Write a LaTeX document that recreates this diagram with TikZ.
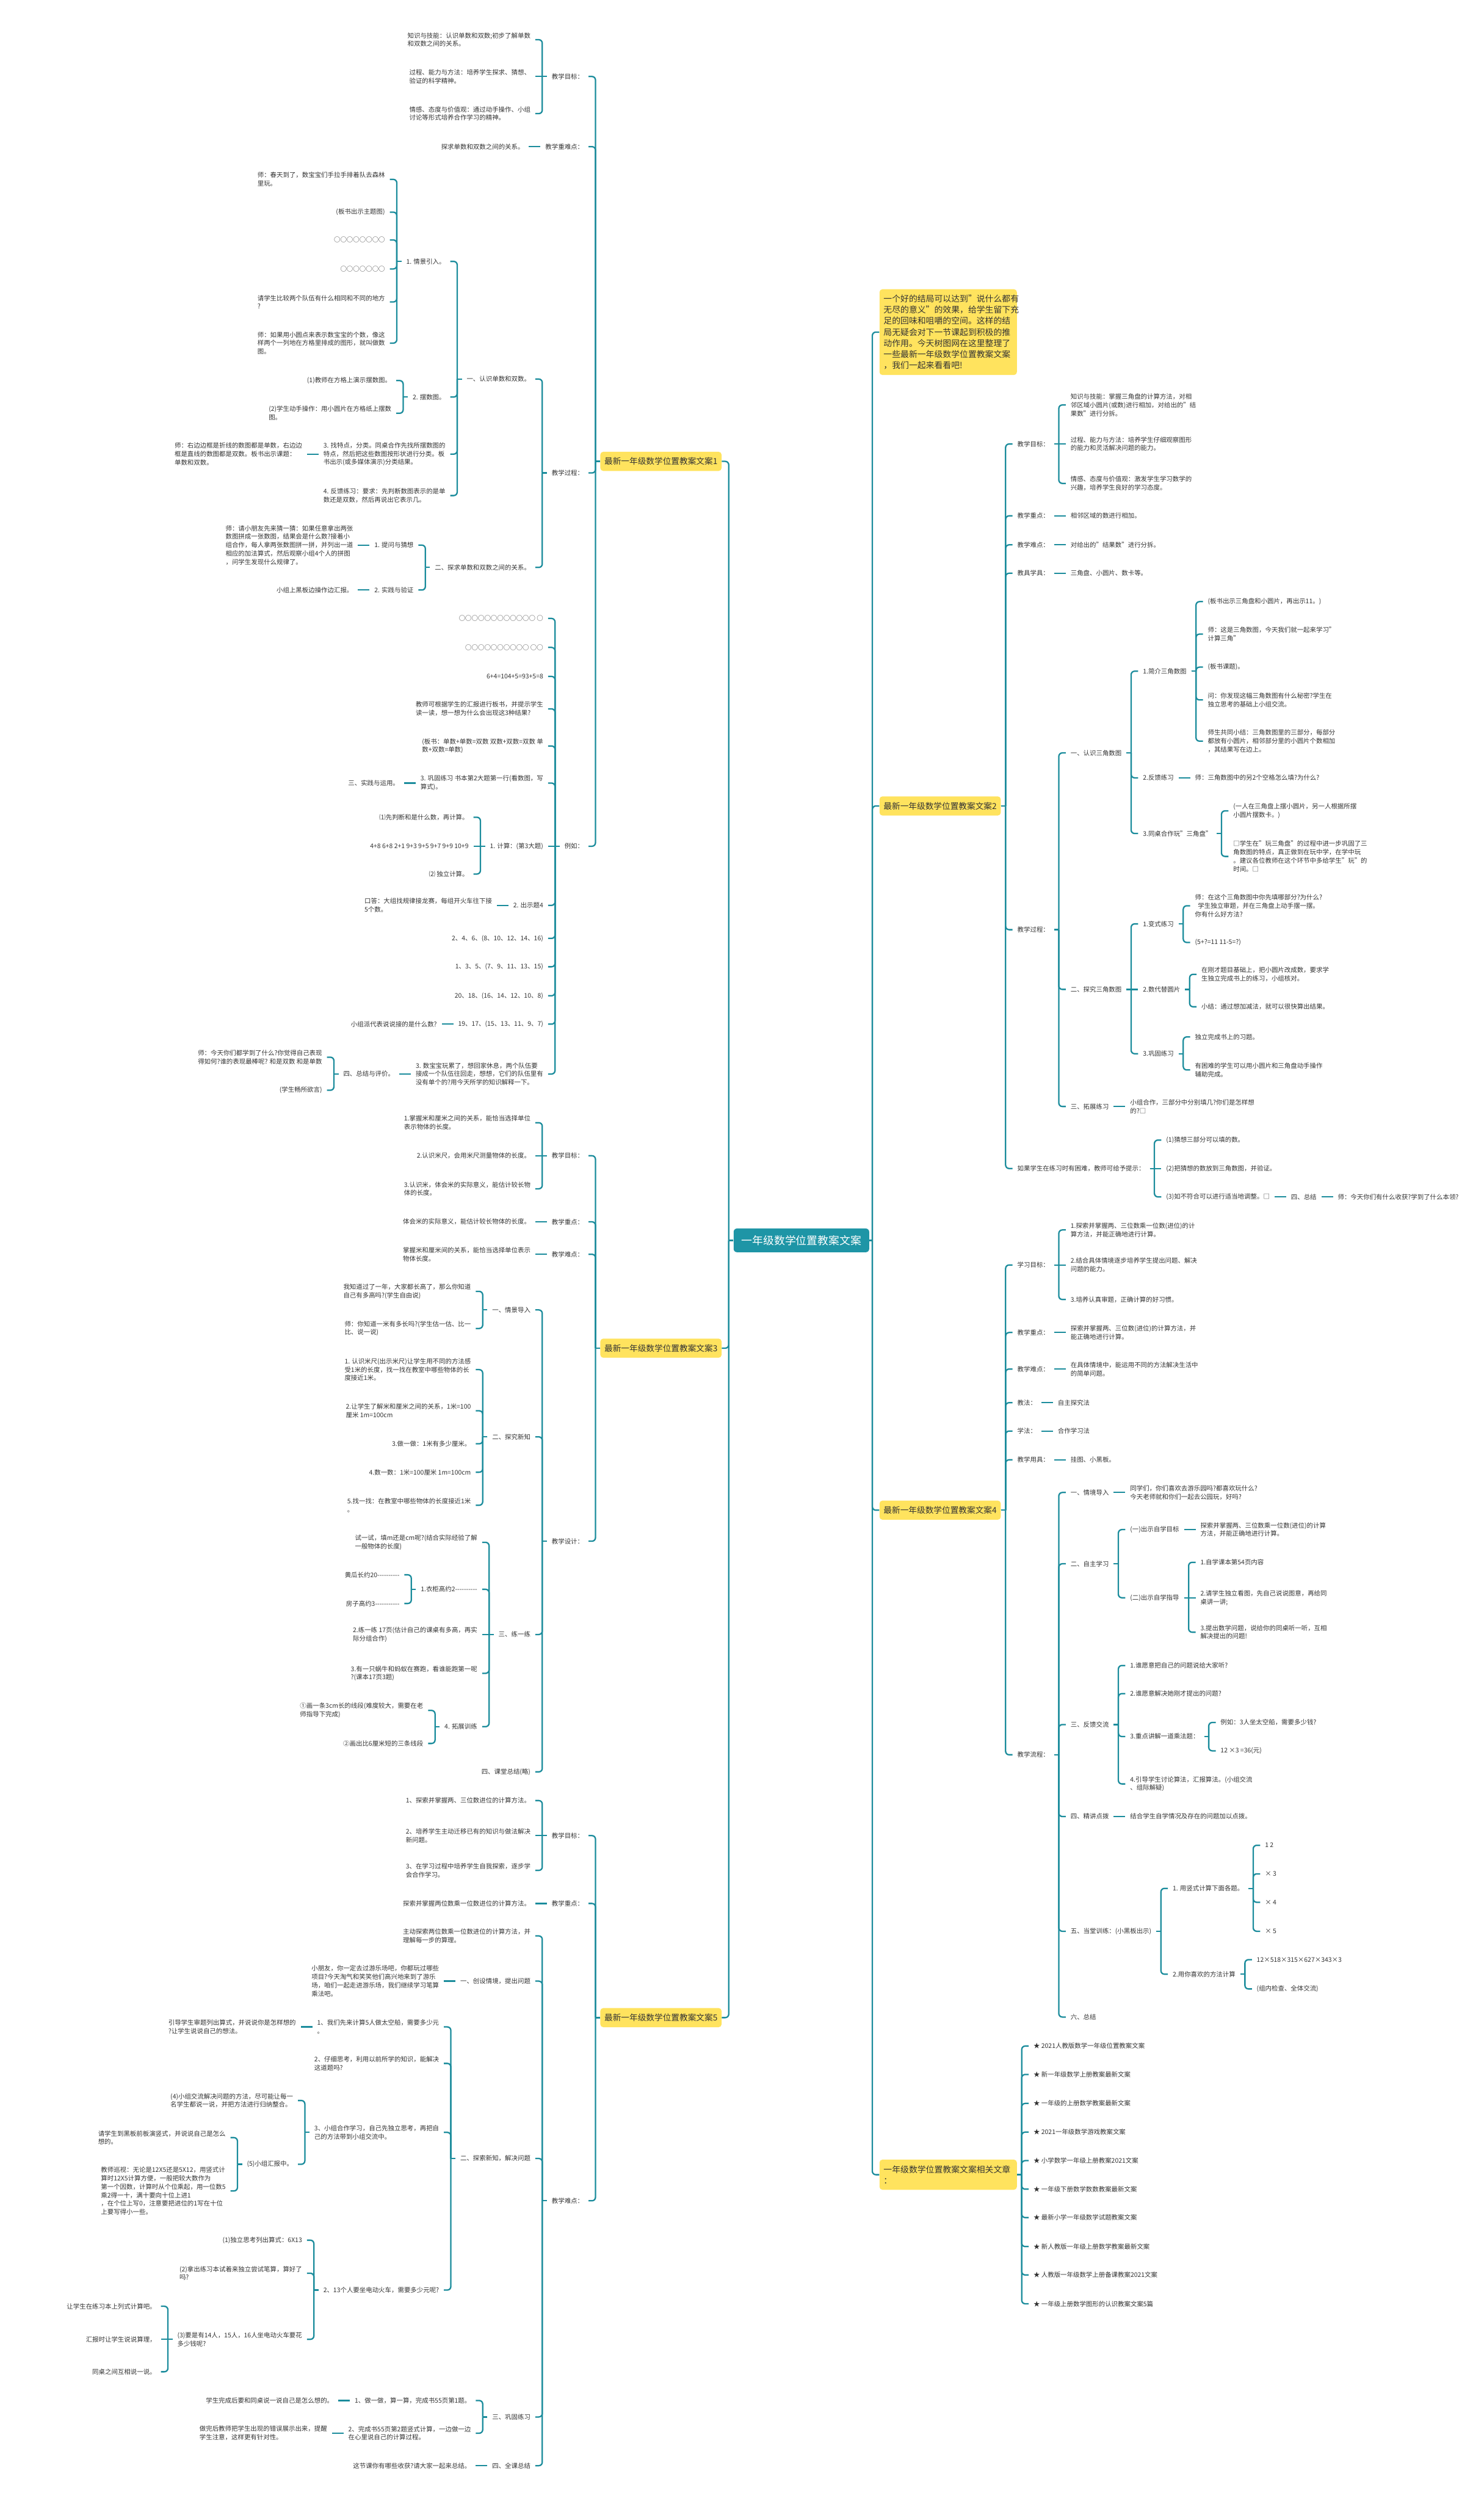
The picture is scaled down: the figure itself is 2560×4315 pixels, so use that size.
\documentclass[tikz,border=0pt]{standalone}
\usepackage{fontspec}
\setmainfont{Noto Sans CJK SC}
\usepackage{tikz}
\usetikzlibrary{positioning,calc}

\definecolor{linec}{HTML}{1B8C9C}
\definecolor{hubc}{HTML}{1E95A6}
\definecolor{hl}{HTML}{FFE35E}
\definecolor{ink}{HTML}{333333}

\newcommand{\mmtxt}{\fontsize{5.5}{7.25}\selectfont}
\newcommand{\mmbranch}{\fontsize{7.2}{9}\selectfont}
\newcommand{\mmintro}{\fontsize{7.3}{9.65}\selectfont}
\newcommand{\mmhub}{\fontsize{9.4}{11}\selectfont}

\tikzstyle{txt} = [font=\mmtxt, text=ink, inner xsep=4pt, inner ysep=1pt, align=left]
\tikzstyle{lt} = [txt, anchor=east, xshift=-10pt]
\tikzstyle{rt} = [txt, anchor=west, xshift=10pt]
\tikzstyle{box} = [fill=hl, rounded corners=2.5pt, text=ink, font=\mmbranch, minimum height=16.5pt, inner xsep=3.5pt]
\tikzstyle{lbox} = [box, anchor=east, xshift=-10pt]
\tikzstyle{rbox} = [box, anchor=west, xshift=8.5pt]
\tikzstyle{hub} = [fill=hubc, rounded corners=3pt, text=white, font=\mmhub, minimum width=117pt, minimum height=20.5pt]
\tikzstyle{link} = [draw=linec, line width=1.2pt, rounded corners=3pt]

% parent -> children, left and right side
\newcommand{\lkl}[2]{%
  \foreach \ch in {#2}{%
    \draw[link] (#1.west) -- ($(#1.west -| \ch.east)+(6pt,0)$);
    \draw[link] ($(#1.west -| \ch.east)+(6pt,0)$) |- (\ch.east);}}
\newcommand{\lkr}[2]{%
  \foreach \ch in {#2}{%
    \draw[link] (#1.east) -- ($(#1.east -| \ch.west)+(-6pt,0)$);
    \draw[link] ($(#1.east -| \ch.west)+(-6pt,0)$) |- (\ch.west);}}
\newcommand{\lksl}[2]{\draw[link] (#1.west) -- (#2.east);}
\newcommand{\lksr}[2]{\draw[link] (#1.east) -- (#2.west);}

\begin{document}
\begin{tikzpicture}[x=0.5pt,y=-0.5pt]
\fill[white] (0,0) rectangle (2560,4315);
\useasboundingbox (0,0) rectangle (2560,4315);

\node[hub] (ctr) at (1383,2140) {一年级数学位置教案文案};

% ---- 文案1
\node[lbox] (b1) at (ctr.west |- 0,796) {最新一年级数学位置教案文案1};
\node[lt] (b1g) at (b1.west |- 0,132) {教学目标：};
\node[lt] (b1g1) at (b1g.west |- 0,68.5) {知识与技能：认识单数和双数;初步了解单数\\和双数之间的关系。};
\node[lt] (b1g2) at (b1g.west) {过程、能力与方法：培养学生探求、猜想、\\验证的科学精神。};
\node[lt] (b1g3) at (b1g.west |- 0,196) {情感、态度与价值观：通过动手操作、小组\\讨论等形式培养合作学习的精神。};
\node[lt] (b1z) at (b1.west |- 0,253) {教学重难点：};
\node[lt] (b1z1) at (b1z.west) {探求单数和双数之间的关系。};
\node[lt] (b1p) at (b1.west |- 0,816) {教学过程：};
\node[lt] (b1pa) at (b1p.west |- 0,654) {一、认识单数和双数。};
\node[lt] (b1pa1) at (b1pa.west |- 0,451) {1. 情景引入。};
\node[lt] (b1pa1a) at (b1pa1.west |- 0,309.5) {师：春天到了，数宝宝们手拉手排着队去森林\\里玩。};
\node[lt] (b1pa1b) at (b1pa1.west |- 0,366) {(板书出示主题图)};
\node[lt] (b1pa1c) at (b1pa1.west |- 0,414) {○○○○○○○○};
\node[lt] (b1pa1d) at (b1pa1.west |- 0,464) {○○○○○○○};
\node[lt] (b1pa1e) at (b1pa1.west |- 0,521) {请学生比较两个队伍有什么相同和不同的地方\\?};
\node[lt] (b1pa1f) at (b1pa1.west |- 0,592) {师：如果用小圆点来表示数宝宝的个数，像这\\样两个一列地在方格里排成的图形，就叫做数\\图。};
\node[lt] (b1pa2) at (b1pa.west |- 0,685) {2. 摆数图。};
\node[lt] (b1pa2a) at (b1pa2.west |- 0,656.6) {(1)教师在方格上演示摆数图。};
\node[lt] (b1pa2b) at (b1pa2.west |- 0,713) {(2)学生动手操作：用小圆片在方格纸上摆数\\图。};
\node[lt] (b1pa3) at (b1pa.west |- 0,783.5) {3. 找特点，分类。同桌合作先找所摆数图的\\特点，然后把这些数图按形状进行分类。板\\书出示(或多媒体演示)分类结果。};
\node[lt] (b1pa3a) at (b1pa3.west) {师：右边边框是折线的数图都是单数，右边边\\框是直线的数图都是双数。板书出示课题：\\单数和双数。};
\node[lt] (b1pa4) at (b1pa.west |- 0,855) {4. 反馈练习：要求：先判断数图表示的是单\\数还是双数，然后再说出它表示几。};
\node[lt] (b1pb) at (b1p.west |- 0,979) {二、探求单数和双数之间的关系。};
\node[lt] (b1pb1) at (b1pb.west |- 0,940.5) {1. 提问与猜想};
\node[lt] (b1pb1a) at (b1pb1.west) {师：请小朋友先来猜一猜：如果任意拿出两张\\数图拼成一张数图，结果会是什么数?接着小\\组合作，每人拿两张数图拼一拼，并列出一道\\相应的加法算式，然后观察小组4个人的拼图\\，问学生发现什么规律了。};
\node[lt] (b1pb2) at (b1pb.west |- 0,1018) {2. 实践与验证};
\node[lt] (b1pb2a) at (b1pb2.west) {小组上黑板边操作边汇报。};
\node[lt] (b1e) at (b1.west |- 0,1460) {例如：};
\node[lt] (b1e1) at (b1e.west |- 0,1067) {○○○○○○○○○○○○ ○};
\node[lt] (b1e2) at (b1e.west |- 0,1117) {○○○○○○○○○○ ○○};
\node[lt] (b1e3) at (b1e.west |- 0,1167) {6+4=104+5=93+5=8};
\node[lt] (b1e4) at (b1e.west |- 0,1223) {教师可根据学生的汇报进行板书，并提示学生\\读一读，想一想为什么会出现这3种结果?};
\node[lt] (b1e5) at (b1e.west |- 0,1287) {(板书：单数+单数=双数 双数+双数=双数 单\\数+双数=单数)};
\node[lt] (b1e6) at (b1e.west |- 0,1351) {3. 巩固练习 书本第2大题第一行(看数图，写\\算式)。};
\node[lt] (b1e6a) at (b1e6.west) {三、实践与运用。};
\node[lt] (b1e7) at (b1e.west) {1. 计算：(第3大题)};
\node[lt] (b1e7a) at (b1e7.west |- 0,1410) {⑴先判断和是什么数，再计算。};
\node[lt] (b1e7b) at (b1e7.west) {4+8 6+8 2+1 9+3 9+5 9+7 9+9 10+9};
\node[lt] (b1e7c) at (b1e7.west |- 0,1508) {⑵ 独立计算。};
\node[lt] (b1e8) at (b1e.west |- 0,1562) {2. 出示题4};
\node[lt] (b1e8a) at (b1e8.west) {口答：大组找规律接龙赛，每组开火车往下接\\5个数。};
\node[lt] (b1e9) at (b1e.west |- 0,1619) {2、4、6、(8、10、12、14、16)};
\node[lt] (b1e10) at (b1e.west |- 0,1668) {1、3、5、(7、9、11、13、15)};
\node[lt] (b1e11) at (b1e.west |- 0,1718) {20、18、(16、14、12、10、8)};
\node[lt] (b1e12) at (b1e.west |- 0,1767) {19、17、(15、13、11、9、7)};
\node[lt] (b1e12a) at (b1e12.west) {小组派代表说说接的是什么数?};
\node[lt] (b1e13) at (b1e.west |- 0,1853) {3. 数宝宝玩累了，想回家休息，两个队伍要\\接成一个队伍往回走，想想，它们的队伍里有\\没有单个的?用今天所学的知识解释一下。};
\node[lt] (b1e13a) at (b1e13.west) {四、总结与评价。};
\node[lt] (b1e13a1) at (b1e13a.west |- 0,1824) {师：今天你们都学到了什么?你觉得自己表现\\得如何?谁的表现最棒呢? 和是双数 和是单数};
\node[lt] (b1e13a2) at (b1e13a.west |- 0,1881) {(学生畅所欲言)};

% ---- 文案3
\node[lbox] (b3) at (ctr.west |- 0,2326) {最新一年级数学位置教案文案3};
\node[lt] (b3g) at (b3.west |- 0,1994) {教学目标：};
\node[lt] (b3g1) at (b3g.west |- 0,1937) {1.掌握米和厘米之间的关系，能恰当选择单位\\表示物体的长度。};
\node[lt] (b3g2) at (b3g.west) {2.认识米尺，会用米尺测量物体的长度。};
\node[lt] (b3g3) at (b3g.west |- 0,2051) {3.认识米，体会米的实际意义，能估计较长物\\体的长度。};
\node[lt] (b3z) at (b3.west |- 0,2108) {教学重点：};
\node[lt] (b3z1) at (b3z.west) {体会米的实际意义，能估计较长物体的长度。};
\node[lt] (b3n) at (b3.west |- 0,2164) {教学难点：};
\node[lt] (b3n1) at (b3n.west) {掌握米和厘米间的关系，能恰当选择单位表示\\物体长度。};
\node[lt] (b3d) at (b3.west |- 0,2659) {教学设计：};
\node[lt] (b3da) at (b3d.west |- 0,2260) {一、情景导入};
\node[lt] (b3da1) at (b3da.west |- 0,2228) {我知道过了一年，大家都长高了，那么你知道\\自己有多高吗?(学生自由说)};
\node[lt] (b3da2) at (b3da.west |- 0,2292) {师：你知道一米有多长吗?(学生估一估、比一\\比、说一说)};
\node[lt] (b3db) at (b3d.west |- 0,2479) {二、探究新知};
\node[lt] (b3db1) at (b3db.west |- 0,2363) {1. 认识米尺(出示米尺)让学生用不同的方法感\\受1米的长度，找一找在教室中哪些物体的长\\度接近1米。};
\node[lt] (b3db2) at (b3db.west |- 0,2434) {2.让学生了解米和厘米之间的关系，1米=100\\厘米 1m=100cm};
\node[lt] (b3db3) at (b3db.west |- 0,2491) {3.做一做：1米有多少厘米。};
\node[lt] (b3db4) at (b3db.west |- 0,2540) {4.数一数：1米=100厘米 1m=100cm};
\node[lt] (b3db5) at (b3db.west |- 0,2597) {5.找一找：在教室中哪些物体的长度接近1米\\。};
\node[lt] (b3dc) at (b3d.west |- 0,2820) {三、练一练};
\node[lt] (b3dc1) at (b3dc.west |- 0,2661) {试一试，填m还是cm呢?(结合实际经验了解\\一般物体的长度)};
\node[lt] (b3dc2) at (b3dc.west |- 0,2742) {1.衣柜高约2-{}-{}-{}-{}-{}-{}-{}-{}-{}-{}};
\node[lt] (b3dc2a) at (b3dc2.west |- 0,2717) {黄瓜长约20-{}-{}-{}-{}-{}-{}-{}-{}-{}-{}};
\node[lt] (b3dc2b) at (b3dc2.west |- 0,2766.5) {房子高约3-{}-{}-{}-{}-{}-{}-{}-{}-{}-{}-{}};
\node[lt] (b3dc3) at (b3dc.west) {2.练一练 17页(估计自己的课桌有多高，再实\\际分组合作)};
\node[lt] (b3dc4) at (b3dc.west |- 0,2887) {3.有一只蜗牛和蚂蚁在赛跑，看谁能跑第一呢\\?(课本17页3题)};
\node[lt] (b3dc5) at (b3dc.west |- 0,2979) {4. 拓展训练};
\node[lt] (b3dc5a) at (b3dc5.west |- 0,2951) {①画一条3cm长的线段(难度较大，需要在老\\师指导下完成)};
\node[lt] (b3dc5b) at (b3dc5.west |- 0,3008) {②画出比6厘米短的三条线段};
\node[lt] (b3dd) at (b3d.west |- 0,3057) {四、课堂总结(略)};

% ---- 文案5
\node[lbox] (b5) at (ctr.west |- 0,3481) {最新一年级数学位置教案文案5};
\node[lt] (b5g) at (b5.west |- 0,3167) {教学目标：};
\node[lt] (b5g1) at (b5g.west |- 0,3106.5) {1、探索并掌握两、三位数进位的计算方法。};
\node[lt] (b5g2) at (b5g.west) {2、培养学生主动迁移已有的知识与做法解决\\新问题。};
\node[lt] (b5g3) at (b5g.west |- 0,3227) {3、在学习过程中培养学生自我探索，逐步学\\会合作学习。};
\node[lt] (b5z) at (b5.west |- 0,3284) {教学重点：};
\node[lt] (b5z1) at (b5z.west) {探索并掌握两位数乘一位数进位的计算方法。};
\node[lt] (b5n) at (b5.west |- 0,3797) {教学难点：};
\node[lt] (b5n1) at (b5n.west |- 0,3340) {主动探索两位数乘一位数进位的计算方法，并\\理解每一步的算理。};
\node[lt] (b5n2) at (b5n.west |- 0,3418) {一、创设情境，提出问题};
\node[lt] (b5n2a) at (b5n2.west) {小朋友，你一定去过游乐场吧，你都玩过哪些\\项目?今天淘气和笑笑他们高兴地来到了游乐\\场，咱们一起走进游乐场，我们继续学习笔算\\乘法吧。};
\node[lt] (b5n3) at (b5n.west |- 0,3724) {二、探索新知，解决问题};
\node[lt] (b5n3a) at (b5n3.west |- 0,3497) {1、我们先来计算5人做太空船，需要多少元\\。};
\node[lt] (b5n3a1) at (b5n3a.west) {引导学生审题列出算式，并说说你是怎样想的\\?让学生说说自己的想法。};
\node[lt] (b5n3b) at (b5n3.west |- 0,3560) {2、仔细思考，利用以前所学的知识，能解决\\这道题吗?};
\node[lt] (b5n3c) at (b5n3.west |- 0,3679) {3、小组合作学习，自己先独立思考，再把自\\己的方法带到小组交流中。};
\node[lt] (b5n3c1) at (b5n3c.west |- 0,3624) {(4)小组交流解决问题的方法，尽可能让每一\\名学生都说一说，并把方法进行归纳整合。};
\node[lt] (b5n3c2) at (b5n3c.west |- 0,3734) {(5)小组汇报中。};
\node[lt] (b5n3c2a) at (b5n3c2.west |- 0,3688) {请学生到黑板前板演竖式，并说说自己是怎么\\想的。};
\node[lt] (b5n3c2b) at (b5n3c2.west |- 0,3780) {教师巡视：无论是12X5还是5X12，用竖式计\\算时12X5计算方便，一般把较大数作为\\第一个因数，计算时从个位乘起，用一位数5\\乘2得一十，满十要向十位上进1\\，在个位上写0，注意要把进位的1写在十位\\上要写得小一些。};
\node[lt] (b5n3d) at (b5n3.west |- 0,3951) {2、13个人要坐电动火车，需要多少元呢?};
\node[lt] (b5n3d1) at (b5n3d.west |- 0,3865) {(1)独立思考列出算式：6X13};
\node[lt] (b5n3d2) at (b5n3d.west |- 0,3922) {(2)拿出练习本试着来独立尝试笔算，算好了\\吗?};
\node[lt] (b5n3d3) at (b5n3d.west |- 0,4036) {(3)要是有14人，15人，16人坐电动火车要花\\多少钱呢?};
\node[lt] (b5n3d3a) at (b5n3d3.west |- 0,3979) {让学生在练习本上列式计算吧。};
\node[lt] (b5n3d3b) at (b5n3d3.west) {汇报时让学生说说算理，};
\node[lt] (b5n3d3c) at (b5n3d3.west |- 0,4092) {同桌之间互相说一说。};
\node[lt] (b5n4) at (b5n.west |- 0,4170) {三、巩固练习};
\node[lt] (b5n4a) at (b5n4.west |- 0,4141.6) {1、做一做，算一算，完成书55页第1题。};
\node[lt] (b5n4a1) at (b5n4a.west) {学生完成后要和同桌说一说自己是怎么想的。};
\node[lt] (b5n4b) at (b5n4.west |- 0,4198) {2、完成书55页第2题竖式计算，一边做一边\\在心里说自己的计算过程。};
\node[lt] (b5n4b1) at (b5n4b.west) {做完后教师把学生出现的错误展示出来，提醒\\学生注意，这样更有针对性。};
\node[lt] (b5n5) at (b5n.west |- 0,4254) {四、全课总结};
\node[lt] (b5n5a) at (b5n5.west) {这节课你有哪些收获?请大家一起来总结。};

% ---- 右侧
\node[rbox, text width=111.5pt, align=left, font=\mmintro, minimum height=74pt] (intro) at (ctr.east |- 0,573) {一个好的结局可以达到"说什么都有\\无尽的意义"的效果，给学生留下充\\足的回味和咀嚼的空间。这样的结\\局无疑会对下一节课起到积极的推\\动作用。今天树图网在这里整理了\\一些最新一年级数学位置教案文案\\，我们一起来看看吧!};

% ---- 文案2
\node[rbox] (b2) at (ctr.east |- 0,1390.5) {最新一年级数学位置教案文案2};
\node[rt] (b2g) at (b2.east |- 0,766) {教学目标：};
\node[rt] (b2g1) at (b2g.east |- 0,698.7) {知识与技能：掌握三角盘的计算方法，对相\\邻区域小圆片(或数)进行相加，对给出的"结\\果数"进行分拆。};
\node[rt] (b2g2) at (b2g.east) {过程、能力与方法：培养学生仔细观察图形\\的能力和灵活解决问题的能力。};
\node[rt] (b2g3) at (b2g.east |- 0,834) {情感、态度与价值观：激发学生学习数学的\\兴趣，培养学生良好的学习态度。};
\node[rt] (b2z) at (b2.east |- 0,890) {教学重点：};
\node[rt] (b2z1) at (b2z.east) {相邻区域的数进行相加。};
\node[rt] (b2n) at (b2.east |- 0,940) {教学难点：};
\node[rt] (b2n1) at (b2n.east) {对给出的"结果数"进行分拆。};
\node[rt] (b2t) at (b2.east |- 0,989) {教具学具：};
\node[rt] (b2t1) at (b2t.east) {三角盘、小圆片、数卡等。};
\node[rt] (b2p) at (b2.east |- 0,1604) {教学过程：};
\node[rt] (b2pa) at (b2p.east |- 0,1299) {一、认识三角数图};
\node[rt] (b2pa1) at (b2pa.east |- 0,1158) {1.简介三角数图};
\node[rt] (b2pa1a) at (b2pa1.east |- 0,1038) {(板书出示三角盘和小圆片，再出示11。)};
\node[rt] (b2pa1b) at (b2pa1.east |- 0,1094) {师：这是三角数图，今天我们就一起来学习"\\计算三角"};
\node[rt] (b2pa1c) at (b2pa1.east |- 0,1151) {(板书课题)。};
\node[rt] (b2pa1d) at (b2pa1.east |- 0,1207.6) {问：你发现这幅三角数图有什么秘密?学生在\\独立思考的基础上小组交流。};
\node[rt] (b2pa1e) at (b2pa1.east |- 0,1278.7) {师生共同小结：三角数图里的三部分，每部分\\都放有小圆片，相邻部分里的小圆片个数相加\\，其结果写在边上。};
\node[rt] (b2pa2) at (b2pa.east |- 0,1342) {2.反馈练习};
\node[rt] (b2pa2a) at (b2pa2.east) {师：三角数图中的另2个空格怎么填?为什么?};
\node[rt] (b2pa3) at (b2pa.east |- 0,1438) {3.同桌合作玩"三角盘"};
\node[rt] (b2pa3a) at (b2pa3.east |- 0,1399) {(一人在三角盘上摆小圆片，另一人根据所摆\\小圆片摆数卡。)};
\node[rt] (b2pa3b) at (b2pa3.east |- 0,1477.6) {□学生在"玩三角盘"的过程中进一步巩固了三\\角数图的特点，真正做到在玩中学，在学中玩\\。建议各位教师在这个环节中多给学生"玩"的\\时间。□};
\node[rt] (b2pb) at (b2p.east |- 0,1707) {二、探究三角数图};
\node[rt] (b2pb1) at (b2pb.east |- 0,1594) {1.变式练习};
\node[rt] (b2pb1a) at (b2pb1.east |- 0,1562.7) {师：在这个三角数图中你先填哪部分?为什么?\\\hspace*{2.5pt}学生独立审题，并在三角盘上动手摆一摆。\\你有什么好方法?};
\node[rt] (b2pb1b) at (b2pb1.east |- 0,1626) {(5+?=11 11-5=?)};
\node[rt] (b2pb2) at (b2pb.east) {2.数代替圆片};
\node[rt] (b2pb2a) at (b2pb2.east |- 0,1681) {在刚才题目基础上，把小圆片改成数，要求学\\生独立完成书上的练习，小组核对。};
\node[rt] (b2pb2b) at (b2pb2.east |- 0,1737) {小结：通过想加减法，就可以很快算出结果。};
\node[rt] (b2pb3) at (b2pb.east |- 0,1818) {3.巩固练习};
\node[rt] (b2pb3a) at (b2pb3.east |- 0,1789) {独立完成书上的习题。};
\node[rt] (b2pb3b) at (b2pb3.east |- 0,1846) {有困难的学生可以用小圆片和三角盘动手操作\\辅助完成。};
\node[rt] (b2pc) at (b2p.east |- 0,1909) {三、拓展练习};
\node[rt] (b2pc1) at (b2pc.east) {小组合作，三部分中分别填几?你们是怎样想\\的?□};
\node[rt] (b2h) at (b2.east |- 0,2016) {如果学生在练习时有困难，教师可给予提示：};
\node[rt] (b2h1) at (b2h.east |- 0,1967) {(1)猜想三部分可以填的数。};
\node[rt] (b2h2) at (b2h.east) {(2)把猜想的数放到三角数图，并验证。};
\node[rt] (b2h3) at (b2h.east |- 0,2065) {(3)如不符合可以进行适当地调整。□};
\node[rt] (b2h3a) at (b2h3.east) {四、总结};
\node[rt] (b2h3b) at (b2h3a.east) {师：今天你们有什么收获?学到了什么本领?};

% ---- 文案4
\node[rbox] (b4) at (ctr.east |- 0,2605.5) {最新一年级数学位置教案文案4};
\node[rt] (b4g) at (b4.east |- 0,2182.5) {学习目标：};
\node[rt] (b4g1) at (b4g.east |- 0,2122) {1.探索并掌握两、三位数乘一位数(进位)的计\\算方法，并能正确地进行计算。};
\node[rt] (b4g2) at (b4g.east) {2.结合具体情境逐步培养学生提出问题、解决\\问题的能力。};
\node[rt] (b4g3) at (b4g.east |- 0,2242) {3.培养认真审题，正确计算的好习惯。};
\node[rt] (b4z) at (b4.east |- 0,2299) {教学重点：};
\node[rt] (b4z1) at (b4z.east) {探索并掌握两、三位数(进位)的计算方法，并\\能正确地进行计算。};
\node[rt] (b4n) at (b4.east |- 0,2362) {教学难点：};
\node[rt] (b4n1) at (b4n.east) {在具体情境中，能运用不同的方法解决生活中\\的简单问题。};
\node[rt] (b4f) at (b4.east |- 0,2420) {教法：};
\node[rt] (b4f1) at (b4f.east) {自主探究法};
\node[rt] (b4x) at (b4.east |- 0,2469) {学法：};
\node[rt] (b4x1) at (b4x.east) {合作学习法};
\node[rt] (b4y) at (b4.east |- 0,2518.6) {教学用具：};
\node[rt] (b4y1) at (b4y.east) {挂图、小黑板。};
\node[rt] (b4l) at (b4.east |- 0,3027.5) {教学流程：};
\node[rt] (b4la) at (b4l.east |- 0,2575) {一、情境导入};
\node[rt] (b4la1) at (b4la.east) {同学们，你们喜欢去游乐园吗?都喜欢玩什么?\\今天老师就和你们一起去公园玩，好吗?};
\node[rt] (b4lb) at (b4l.east |- 0,2698) {二、自主学习};
\node[rt] (b4lb1) at (b4lb.east |- 0,2639) {(一)出示自学目标};
\node[rt] (b4lb1a) at (b4lb1.east) {探索并掌握两、三位数乘一位数(进位)的计算\\方法，并能正确地进行计算。};
\node[rt] (b4lb2) at (b4lb.east |- 0,2756.6) {(二)出示自学指导};
\node[rt] (b4lb2a) at (b4lb2.east |- 0,2695.5) {1.自学课本第54页内容};
\node[rt] (b4lb2b) at (b4lb2.east) {2.请学生独立看图，先自己说说图意，再给同\\桌讲一讲;};
\node[rt] (b4lb2c) at (b4lb2.east |- 0,2816) {3.提出数学问题，说给你的同桌听一听，互相\\解决提出的问题!};
\node[rt] (b4lc) at (b4l.east |- 0,2975.4) {三、反馈交流};
\node[rt] (b4lc1) at (b4lc.east |- 0,2873.5) {1.谁愿意把自己的问题说给大家听?};
\node[rt] (b4lc2) at (b4lc.east |- 0,2922) {2.谁愿意解决她刚才提出的问题?};
\node[rt] (b4lc3) at (b4lc.east |- 0,2996) {3.重点讲解一道乘法题：};
\node[rt] (b4lc3a) at (b4lc3.east |- 0,2971.8) {例如：3人坐太空船，需要多少钱?};
\node[rt] (b4lc3b) at (b4lc3.east |- 0,3020.7) {12 ×3 =36(元)};
\node[rt] (b4lc4) at (b4lc.east |- 0,3077.8) {4.引导学生讨论算法，汇报算法。(小组交流\\、组际解疑)};
\node[rt] (b4ld) at (b4l.east |- 0,3134) {四、精讲点拨};
\node[rt] (b4ld1) at (b4ld.east) {结合学生自学情况及存在的问题加以点拨。};
\node[rt] (b4le) at (b4l.east |- 0,3332) {五、当堂训练：(小黑板出示)};
\node[rt] (b4le1) at (b4le.east |- 0,3258) {1. 用竖式计算下面各题。};
\node[rt] (b4le1a) at (b4le1.east |- 0,3183.7) {1 2};
\node[rt] (b4le1b) at (b4le1.east |- 0,3233) {× 3};
\node[rt] (b4le1c) at (b4le1.east |- 0,3282) {× 4};
\node[rt] (b4le1d) at (b4le1.east |- 0,3332) {× 5};
\node[rt] (b4le2) at (b4le.east |- 0,3406) {2.用你喜欢的方法计算};
\node[rt] (b4le2a) at (b4le2.east |- 0,3381) {12×518×315×627×343×3};
\node[rt] (b4le2b) at (b4le2.east |- 0,3431.5) {(组内检查、全体交流)};
\node[rt] (b4lf) at (b4l.east |- 0,3480) {六、总结};

% ---- 相关文章
\node[rbox, text width=111.5pt, align=left, font=\mmintro, minimum height=26pt] (rel) at (ctr.east |- 0,3752) {一年级数学位置教案文案相关文章\\：};
\node[rt] (r1) at (rel.east |- 0,3530) {★ 2021人教版数学一年级位置教案文案};
\node[rt] (r2) at (rel.east |- 0,3579) {★ 新一年级数学上册教案最新文案};
\node[rt] (r3) at (rel.east |- 0,3629) {★ 一年级的上册数学教案最新文案};
\node[rt] (r4) at (rel.east |- 0,3678.5) {★ 2021一年级数学游戏教案文案};
\node[rt] (r5) at (rel.east |- 0,3727.7) {★ 小学数学一年级上册教案2021文案};
\node[rt] (r6) at (rel.east |- 0,3777) {★ 一年级下册数学数数教案最新文案};
\node[rt] (r7) at (rel.east |- 0,3826) {★ 最新小学一年级数学试题教案文案};
\node[rt] (r8) at (rel.east |- 0,3876) {★ 新人教版一年级上册数学教案最新文案};
\node[rt] (r9) at (rel.east |- 0,3925) {★ 人教版一年级数学上册备课教案2021文案};
\node[rt] (r10) at (rel.east |- 0,3974.7) {★ 一年级上册数学图形的认识教案文案5篇};

% connectors, left
\lkl{ctr}{b1,b3,b5}
\lkl{b1}{b1g,b1z,b1p,b1e}
\lkl{b1g}{b1g1,b1g3} \lksl{b1g}{b1g2}
\lksl{b1z}{b1z1}
\lkl{b1p}{b1pa,b1pb}
\lkl{b1pa}{b1pa1,b1pa2,b1pa3,b1pa4}
\lkl{b1pa1}{b1pa1a,b1pa1b,b1pa1c,b1pa1d,b1pa1e,b1pa1f}
\lkl{b1pa2}{b1pa2a,b1pa2b}
\lksl{b1pa3}{b1pa3a}
\lkl{b1pb}{b1pb1,b1pb2}
\lksl{b1pb1}{b1pb1a}
\lksl{b1pb2}{b1pb2a}
\lkl{b1e}{b1e1,b1e2,b1e3,b1e4,b1e5,b1e6,b1e8,b1e9,b1e10,b1e11,b1e12,b1e13} \lksl{b1e}{b1e7}
\lksl{b1e6}{b1e6a}
\lkl{b1e7}{b1e7a,b1e7c} \lksl{b1e7}{b1e7b}
\lksl{b1e8}{b1e8a}
\lksl{b1e12}{b1e12a}
\lksl{b1e13}{b1e13a}
\lkl{b1e13a}{b1e13a1,b1e13a2}
\lkl{b3}{b3g,b3z,b3n,b3d}
\lkl{b3g}{b3g1,b3g3} \lksl{b3g}{b3g2}
\lksl{b3z}{b3z1}
\lksl{b3n}{b3n1}
\lkl{b3d}{b3da,b3db,b3dc,b3dd}
\lkl{b3da}{b3da1,b3da2}
\lkl{b3db}{b3db1,b3db2,b3db3,b3db4,b3db5}
\lkl{b3dc}{b3dc1,b3dc2,b3dc4,b3dc5} \lksl{b3dc}{b3dc3}
\lkl{b3dc2}{b3dc2a,b3dc2b}
\lkl{b3dc5}{b3dc5a,b3dc5b}
\lkl{b5}{b5g,b5z,b5n}
\lkl{b5g}{b5g1,b5g3} \lksl{b5g}{b5g2}
\lksl{b5z}{b5z1}
\lkl{b5n}{b5n1,b5n2,b5n3,b5n4,b5n5}
\lksl{b5n2}{b5n2a}
\lkl{b5n3}{b5n3a,b5n3b,b5n3c,b5n3d}
\lksl{b5n3a}{b5n3a1}
\lkl{b5n3c}{b5n3c1,b5n3c2}
\lkl{b5n3c2}{b5n3c2a,b5n3c2b}
\lkl{b5n3d}{b5n3d1,b5n3d2,b5n3d3}
\lkl{b5n3d3}{b5n3d3a,b5n3d3c} \lksl{b5n3d3}{b5n3d3b}
\lkl{b5n4}{b5n4a,b5n4b}
\lksl{b5n4a}{b5n4a1}
\lksl{b5n4b}{b5n4b1}
\lksl{b5n5}{b5n5a}

% connectors, right
\lkr{ctr}{intro,b2,b4,rel}
\lkr{b2}{b2g,b2z,b2n,b2t,b2p,b2h}
\lkr{b2g}{b2g1,b2g3} \lksr{b2g}{b2g2}
\lksr{b2z}{b2z1}
\lksr{b2n}{b2n1}
\lksr{b2t}{b2t1}
\lkr{b2p}{b2pa,b2pb,b2pc}
\lkr{b2pa}{b2pa1,b2pa2,b2pa3}
\lkr{b2pa1}{b2pa1a,b2pa1b,b2pa1c,b2pa1d,b2pa1e}
\lksr{b2pa2}{b2pa2a}
\lkr{b2pa3}{b2pa3a,b2pa3b}
\lkr{b2pb}{b2pb1,b2pb3} \lksr{b2pb}{b2pb2}
\lkr{b2pb1}{b2pb1a,b2pb1b}
\lkr{b2pb2}{b2pb2a,b2pb2b}
\lkr{b2pb3}{b2pb3a,b2pb3b}
\lksr{b2pc}{b2pc1}
\lkr{b2h}{b2h1,b2h3} \lksr{b2h}{b2h2}
\lksr{b2h3}{b2h3a}
\lksr{b2h3a}{b2h3b}
\lkr{b4}{b4g,b4z,b4n,b4f,b4x,b4y,b4l}
\lkr{b4g}{b4g1,b4g3} \lksr{b4g}{b4g2}
\lksr{b4z}{b4z1}
\lksr{b4n}{b4n1}
\lksr{b4f}{b4f1}
\lksr{b4x}{b4x1}
\lksr{b4y}{b4y1}
\lkr{b4l}{b4la,b4lb,b4lc,b4ld,b4le,b4lf}
\lksr{b4la}{b4la1}
\lkr{b4lb}{b4lb1,b4lb2}
\lksr{b4lb1}{b4lb1a}
\lkr{b4lb2}{b4lb2a,b4lb2c} \lksr{b4lb2}{b4lb2b}
\lkr{b4lc}{b4lc1,b4lc2,b4lc3,b4lc4}
\lkr{b4lc3}{b4lc3a,b4lc3b}
\lksr{b4ld}{b4ld1}
\lkr{b4le}{b4le1,b4le2}
\lkr{b4le1}{b4le1a,b4le1b,b4le1c,b4le1d}
\lkr{b4le2}{b4le2a,b4le2b}
\lkr{rel}{r1,r2,r3,r4,r5,r6,r7,r8,r9,r10}
\end{tikzpicture}
\end{document}
